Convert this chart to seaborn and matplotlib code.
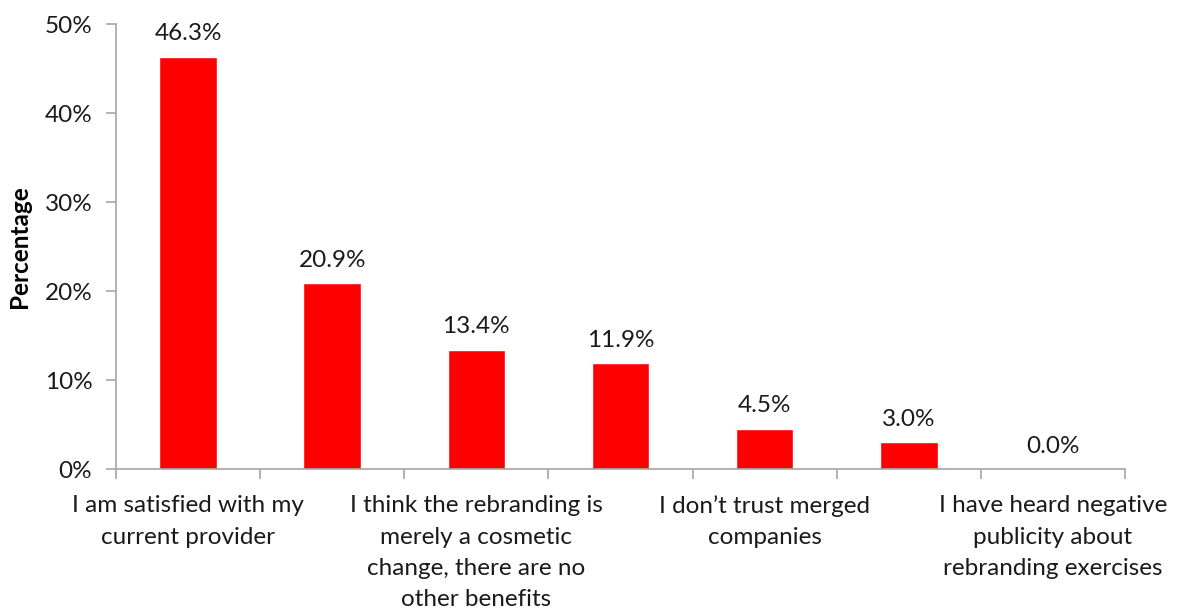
import matplotlib
matplotlib.use("Agg")
import matplotlib.pyplot as plt
import seaborn as sns
import pandas as pd
from matplotlib.ticker import FixedLocator, PercentFormatter

# Survey responses: share of respondents per reason (percent)
reasons = [
    "I am satisfied with my\ncurrent provider",
    "",
    "I think the rebranding is\nmerely a cosmetic\nchange, there are no\nother benefits",
    "",
    "I don\u2019t trust merged\ncompanies",
    "",
    "I have heard negative\npublicity about\nrebranding exercises",
]
shares = [46.3, 20.9, 13.4, 11.9, 4.5, 3.0, 0.0]
y_ticks = [0, 10, 20, 30, 40, 50]

sns.set_theme(style="white")
plt.rcParams["font.family"] = ["Lato", "DejaVu Sans"]

FS = 17.5
df = pd.DataFrame({"pos": list(range(len(shares))), "share": shares})

fig = plt.figure(figsize=(11.81, 6.13), dpi=100)
ax = fig.add_axes([0.0982, 0.2349, 0.8544, 0.7259])

sns.barplot(data=df, x="pos", y="share", color="#FF0000", saturation=1,
            width=0.4, ax=ax)

for cont in ax.containers:
    ax.bar_label(cont, labels=[f"{v:.1f}%" for v in shares], padding=9,
                 fontsize=FS, color="#1a1a1a")

ax.set_xlim(-0.5, len(shares) - 0.5)
ax.set_ylim(0, 50)
ax.set_yticks(y_ticks)
ax.yaxis.set_major_formatter(PercentFormatter(decimals=0))

ax.set_xticks(range(len(shares)))
ax.set_xticklabels(reasons, fontsize=FS, color="#1a1a1a", linespacing=1.6)
ax.xaxis.set_minor_locator(FixedLocator([i - 0.5 for i in range(len(shares) + 1)]))
ax.tick_params(axis="x", which="major", length=0, pad=19)
ax.tick_params(axis="x", which="minor", length=7, width=1.2, color="#A6A6A6",
               direction="out", bottom=True)
ax.tick_params(axis="y", which="major", length=7, width=1.2, color="#A6A6A6",
               direction="out", left=True, labelsize=FS, labelcolor="#1a1a1a", pad=10)

for side in ["top", "right"]:
    ax.spines[side].set_visible(False)
for side in ["left", "bottom"]:
    ax.spines[side].set_color("#A6A6A6")
    ax.spines[side].set_linewidth(1.2)

ax.set_xlabel("")
ax.set_ylabel("Percentage", fontsize=17.5, fontweight="bold", color="#000000", labelpad=10)

fig.savefig("out.png", dpi=100)
